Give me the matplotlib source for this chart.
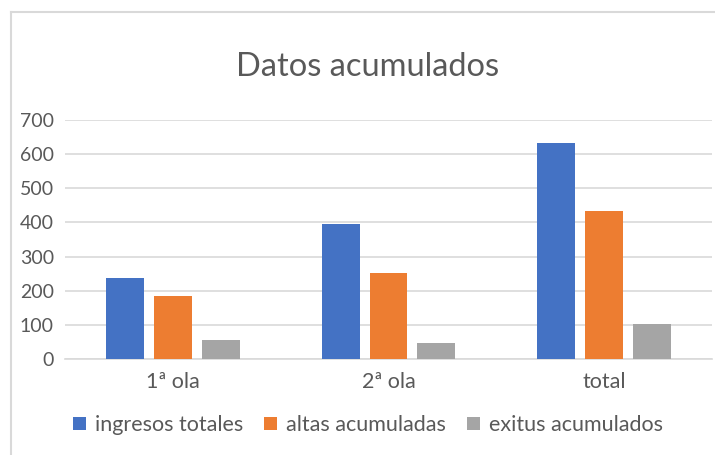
import numpy as np
import matplotlib.pyplot as plt
from matplotlib.lines import Line2D

plt.rcParams['font.family'] = ['Lato', 'DejaVu Sans']

# Data
categories = ['1ª ola', '2ª ola', 'total']
series_names = ['ingresos totales', 'altas acumuladas', 'exitus acumulados']
ingresos = [236, 395, 633]
altas = [184, 251, 433]
exitus = [55, 46, 102]
colors = ['#4472C4', '#ED7D31', '#A5A5A5']

W, H = 715, 455
fig = plt.figure(figsize=(W / 100, H / 100), dpi=100)
ax = fig.add_axes([65 / W, 1 - 359 / H, 647 / W, 239 / H])

x = np.arange(len(categories))
width = 0.176
step = 0.222
for i, (vals, name, col) in enumerate(zip([ingresos, altas, exitus], series_names, colors)):
    ax.bar(x + (i - 1) * step, vals, width, color=col, label=name, zorder=3)

ax.set_xlim(-0.5, 2.5)
ax.set_ylim(0, 700)
ax.set_yticks(range(0, 701, 100))
ax.set_xticks(x)
ax.set_xticklabels(categories)
ax.grid(axis='y', color='#d9d9d9', linewidth=1.2, zorder=0)
for s in ['top', 'right', 'left']:
    ax.spines[s].set_visible(False)
ax.spines['bottom'].set_color('#d9d9d9')
ax.spines['bottom'].set_linewidth(1.2)
ax.tick_params(axis='both', length=0, labelsize=14, colors='#595959')
ax.tick_params(axis='x', pad=9, labelsize=15.5)
ax.tick_params(axis='y', pad=8)

fig.text(368 / W, 1 - 67 / H, 'Datos acumulados', ha='center', va='center',
         fontsize=23.5, color='#595959')

fig.legend(loc='center', bbox_to_anchor=(368 / W, 1 - 425 / H), ncol=3,
           frameon=False, fontsize=15.5, labelcolor='#595959',
           handlelength=0.6, handleheight=0.6, handletextpad=0.4, columnspacing=1.0)

# chart border
fig.add_artist(Line2D([10.5 / W, 10.5 / W], [0, 1 - 12 / H], transform=fig.transFigure,
                      color='#d9d9d9', linewidth=1.5))
fig.add_artist(Line2D([10.5 / W, 1], [1 - 12 / H, 1 - 12 / H], transform=fig.transFigure,
                      color='#d9d9d9', linewidth=1.5))

fig.savefig('out.png', dpi=100)
